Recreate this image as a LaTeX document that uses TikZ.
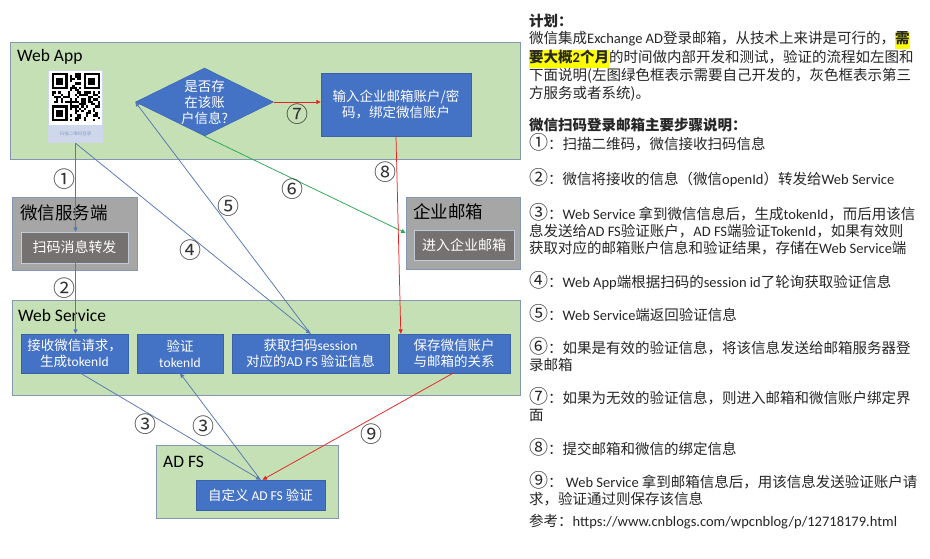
\documentclass[tikz,border=0pt]{standalone}
\usepackage{fontspec}
\setmainfont{Noto Sans CJK SC}
\newfontfamily\enfont{Carlito}
\newcommand{\en}[1]{{\enfont #1}}
\usepackage{xcolor}
\usetikzlibrary{positioning, arrows.meta, shapes.geometric}

\definecolor{panelgreen}{RGB}{197,224,180}
\definecolor{panelborder}{RGB}{132,151,176}
\definecolor{boxblue}{RGB}{68,114,196}
\definecolor{boxborder}{RGB}{58,98,168}
\definecolor{panelgray}{RGB}{166,166,166}
\definecolor{boxgray}{RGB}{118,113,113}
\definecolor{flowblue}{RGB}{84,120,180}
\definecolor{flowred}{RGB}{228,35,35}
\definecolor{flowgreen}{RGB}{40,168,80}
\definecolor{qrback}{RGB}{207,215,235}
\definecolor{marker}{RGB}{255,255,0}
\newcommand{\hl}[1]{{\setlength{\fboxsep}{0pt}\colorbox{marker}{\strut #1}}}
\newcommand{\cnum}[1]{{\fontsize{19}{17.3}\selectfont #1}}

\begin{document}
\begin{tikzpicture}[
    x=1pt, y=-1pt,
    panel/.style={rectangle, draw=panelborder, fill=panelgreen, line width=0.8pt, inner sep=0pt},
    graypanel/.style={rectangle, draw=panelborder, fill=panelgray, line width=0.8pt, inner sep=0pt},
    paneltitle/.style={anchor=west, inner sep=0pt, font=\fontsize{17.5}{20}\selectfont},
    bluebox/.style={rectangle, draw=boxborder, fill=boxblue, text=white, align=center, inner sep=1pt, font=\fontsize{13.5}{16}\selectfont},
    darkbox/.style={rectangle, draw=panelborder!50, fill=boxgray, text=white, align=center, inner sep=1pt, font=\fontsize{14}{16}\selectfont},
    decision/.style={diamond, aspect=2, draw=boxborder, fill=boxblue, text=white, align=center, inner sep=0pt, font=\fontsize{13.5}{16}\selectfont},
    flow/.style={-{Triangle[length=4.5pt, width=4pt]}, draw=flowblue, line width=0.75pt},
    redflow/.style={flow, draw=flowred},
    greenflow/.style={flow, draw=flowgreen},
    stepnum/.style={font=\fontsize{22}{22}\selectfont, inner sep=0pt, text=black!80},
    notetext/.style={anchor=north west, align=left, inner sep=0pt, text=black!85, font=\fontsize{14.5}{17.3}\selectfont}
]
\useasboundingbox (0,0) rectangle (930,558);
\fill[white] (0,0) rectangle (930,558);

% containers
\node[panel, minimum width=510pt, minimum height=117pt] (webapp) at (265,100.5) {};
\node[graypanel, minimum width=125pt, minimum height=73pt] (wxserver) at (74.5,233.5) {};
\node[graypanel, minimum width=114pt, minimum height=72pt] (mailsys) at (463,233) {};
\node[panel, minimum width=508pt, minimum height=95pt] (websvc) at (266,347.5) {};
\node[panel, minimum width=182pt, minimum height=73pt] (adfs) at (247,481.5) {};

\node[paneltitle] (webapptitle) at (17,57) {\en{Web App}};
\node[paneltitle] (wxtitle) at (20,213) {微信服务端};
\node[paneltitle] (mailtitle) at (413,212) {企业邮箱};
\node[paneltitle] (svctitle) at (18,315) {\en{Web Service}};
\node[paneltitle] (adfstitle) at (163,462) {\en{AD FS}};

% QR code
\node[rectangle, fill=qrback, minimum width=55pt, minimum height=73pt, inner sep=0pt] (qr) at (75.5,106.5) {};
\fill[white] (49,71) rectangle (102,124.5);
\pgfmathsetseed{42}
\foreach \i in {0,...,20}{
  \foreach \j in {0,...,20}{
    \pgfmathrandominteger{\bit}{0}{1}
    \ifnum\bit=1 \fill (51.5+\i*2.3, 73+\j*2.3) rectangle ++(2.3,2.3); \fi
  }
}
\foreach \ox/\oy in {0/0, 14/0, 0/14}{
  \fill[white] (51.5+\ox*2.3-2.3, 73+\oy*2.3-2.3) rectangle ++(20.7,20.7);
  \fill (51.5+\ox*2.3, 73+\oy*2.3) rectangle ++(16.1,16.1);
  \fill[white] (51.5+\ox*2.3+2.3, 73+\oy*2.3+2.3) rectangle ++(11.5,11.5);
  \fill (51.5+\ox*2.3+4.6, 73+\oy*2.3+4.6) rectangle ++(6.9,6.9);
}
\node[font=\fontsize{4.5}{5}\selectfont, text=flowblue!70, inner sep=0pt] (qrcaption) at (75.5,134) {扫描二维码登录};

% steps
\node[decision, minimum width=138pt, minimum height=66pt] (check) at (204.5,102) {是否存\\在该账\\户信息?};
\node[bluebox, minimum width=150pt, minimum height=63pt] (bind) at (396,104.5) {输入企业邮箱账户/密\\码，绑定微信账户};
\node[darkbox, minimum width=107pt, minimum height=31pt] (forward) at (74.5,247.5) {扫码消息转发};
\node[darkbox, minimum width=100pt, minimum height=30pt] (entermail) at (464,245) {进入企业邮箱};
\node[bluebox, minimum width=107pt, minimum height=39pt] (recv) at (74.5,353.5) {接收微信请求，\\生成\en{tokenId}};
\node[bluebox, minimum width=86pt, minimum height=39pt] (verify) at (180,353.5) {验证\\\en{tokenId}};
\node[bluebox, minimum width=157pt, minimum height=39pt] (fetch) at (310.5,353.5) {获取扫码\en{session}\\对应的\en{AD FS} 验证信息};
\node[bluebox, minimum width=112pt, minimum height=39pt] (save) at (454,353.5) {保存微信账户\\与邮箱的关系};
\node[bluebox, minimum width=129pt, minimum height=30pt] (custom) at (260.5,495) {自定义 \en{AD FS} 验证};

% connectors
\draw[flow] (qr.south) -- (qr.south |- forward.north) node[stepnum, pos=0.4, left=0pt] {①};
\draw[flow] (qr.south |- forward.south) -- (qr.south |- recv.north) node[stepnum, pos=0.35, left=0pt] {②};
\draw[flow] ([xshift=6pt]recv.south) -- (custom.north) node[stepnum, pos=0.36, below=2pt] {③};
\draw[flow] (custom.north) -- (verify.south) node[stepnum, pos=0.5, left=5pt] {③};
\draw[flow] (qr.south) -- (fetch.north) node[stepnum, pos=0.56, left=5pt] {④};
\draw[flow] (fetch.north) -- (check.west) node[stepnum, pos=0.55, right=3pt] {⑤};
\draw[greenflow] (check.south) -- (mailsys.west) node[stepnum, pos=0.44, below=0pt] {⑥};
\draw[redflow] (check.east) -- (check.east -| bind.west) node[stepnum, midway, below=2pt] {⑦};
\draw[redflow] (bind.south) -- ([xshift=3pt]save.north west) node[stepnum, pos=0.18, left=0pt] {⑧};
\draw[redflow] ([xshift=-1pt]save.south) -- ([xshift=2pt]custom.north) node[stepnum, pos=0.43, below=4pt] {⑨};

% notes on the right
\node[notetext] (plan) at (529,14) {\textbf{计划：}\\微信集成\en{Exchange AD}登录邮箱，从技术上来讲是可行的，\hl{\textbf{需}}\\\hl{\textbf{要大概\en{2}个月}}的时间做内部开发和测试，验证的流程如左图和\\下面说明(左图绿色框表示需要自己开发的，灰色框表示第三\\方服务或者系统)。};
\node[notetext] (stepshead) at (529,118) {\textbf{微信扫码登录邮箱主要步骤说明：}\\\cnum{①}：扫描二维码，微信接收扫码信息};
\node[notetext] (note2) at (529,168) {\cnum{②}：微信将接收的信息（微信\en{openId}）转发给\en{Web Service}};
\node[notetext] (note3) at (529,203) {\cnum{③}：\en{Web Service} 拿到微信信息后，生成\en{tokenId}，而后用该信\\息发送给\en{AD FS}验证账户，\en{AD FS}端验证\en{TokenId}，如果有效则\\获取对应的邮箱账户信息和验证结果，存储在\en{Web Service}端};
\node[notetext] (note4) at (529,271) {\cnum{④}：\en{Web App}端根据扫码的\en{session id}了轮询获取验证信息};
\node[notetext] (note5) at (529,304) {\cnum{⑤}：\en{Web Service}端返回验证信息};
\node[notetext] (note6) at (529,337) {\cnum{⑥}：如果是有效的验证信息，将该信息发送给邮箱服务器登\\录邮箱};
\node[notetext] (note7) at (529,387) {\cnum{⑦}：如果为无效的验证信息，则进入邮箱和微信账户绑定界\\面};
\node[notetext] (note8) at (529,438) {\cnum{⑧}：提交邮箱和微信的绑定信息};
\node[notetext] (note9) at (529,471) {\cnum{⑨}：\en{ Web Service} 拿到邮箱信息后，用该信息发送验证账户请\\求，验证通过则保存该信息};
\node[notetext] (ref) at (529,514) {参考：\en{https://www.cnblogs.com/wpcnblog/p/12718179.html}};
\end{tikzpicture}
\end{document}
